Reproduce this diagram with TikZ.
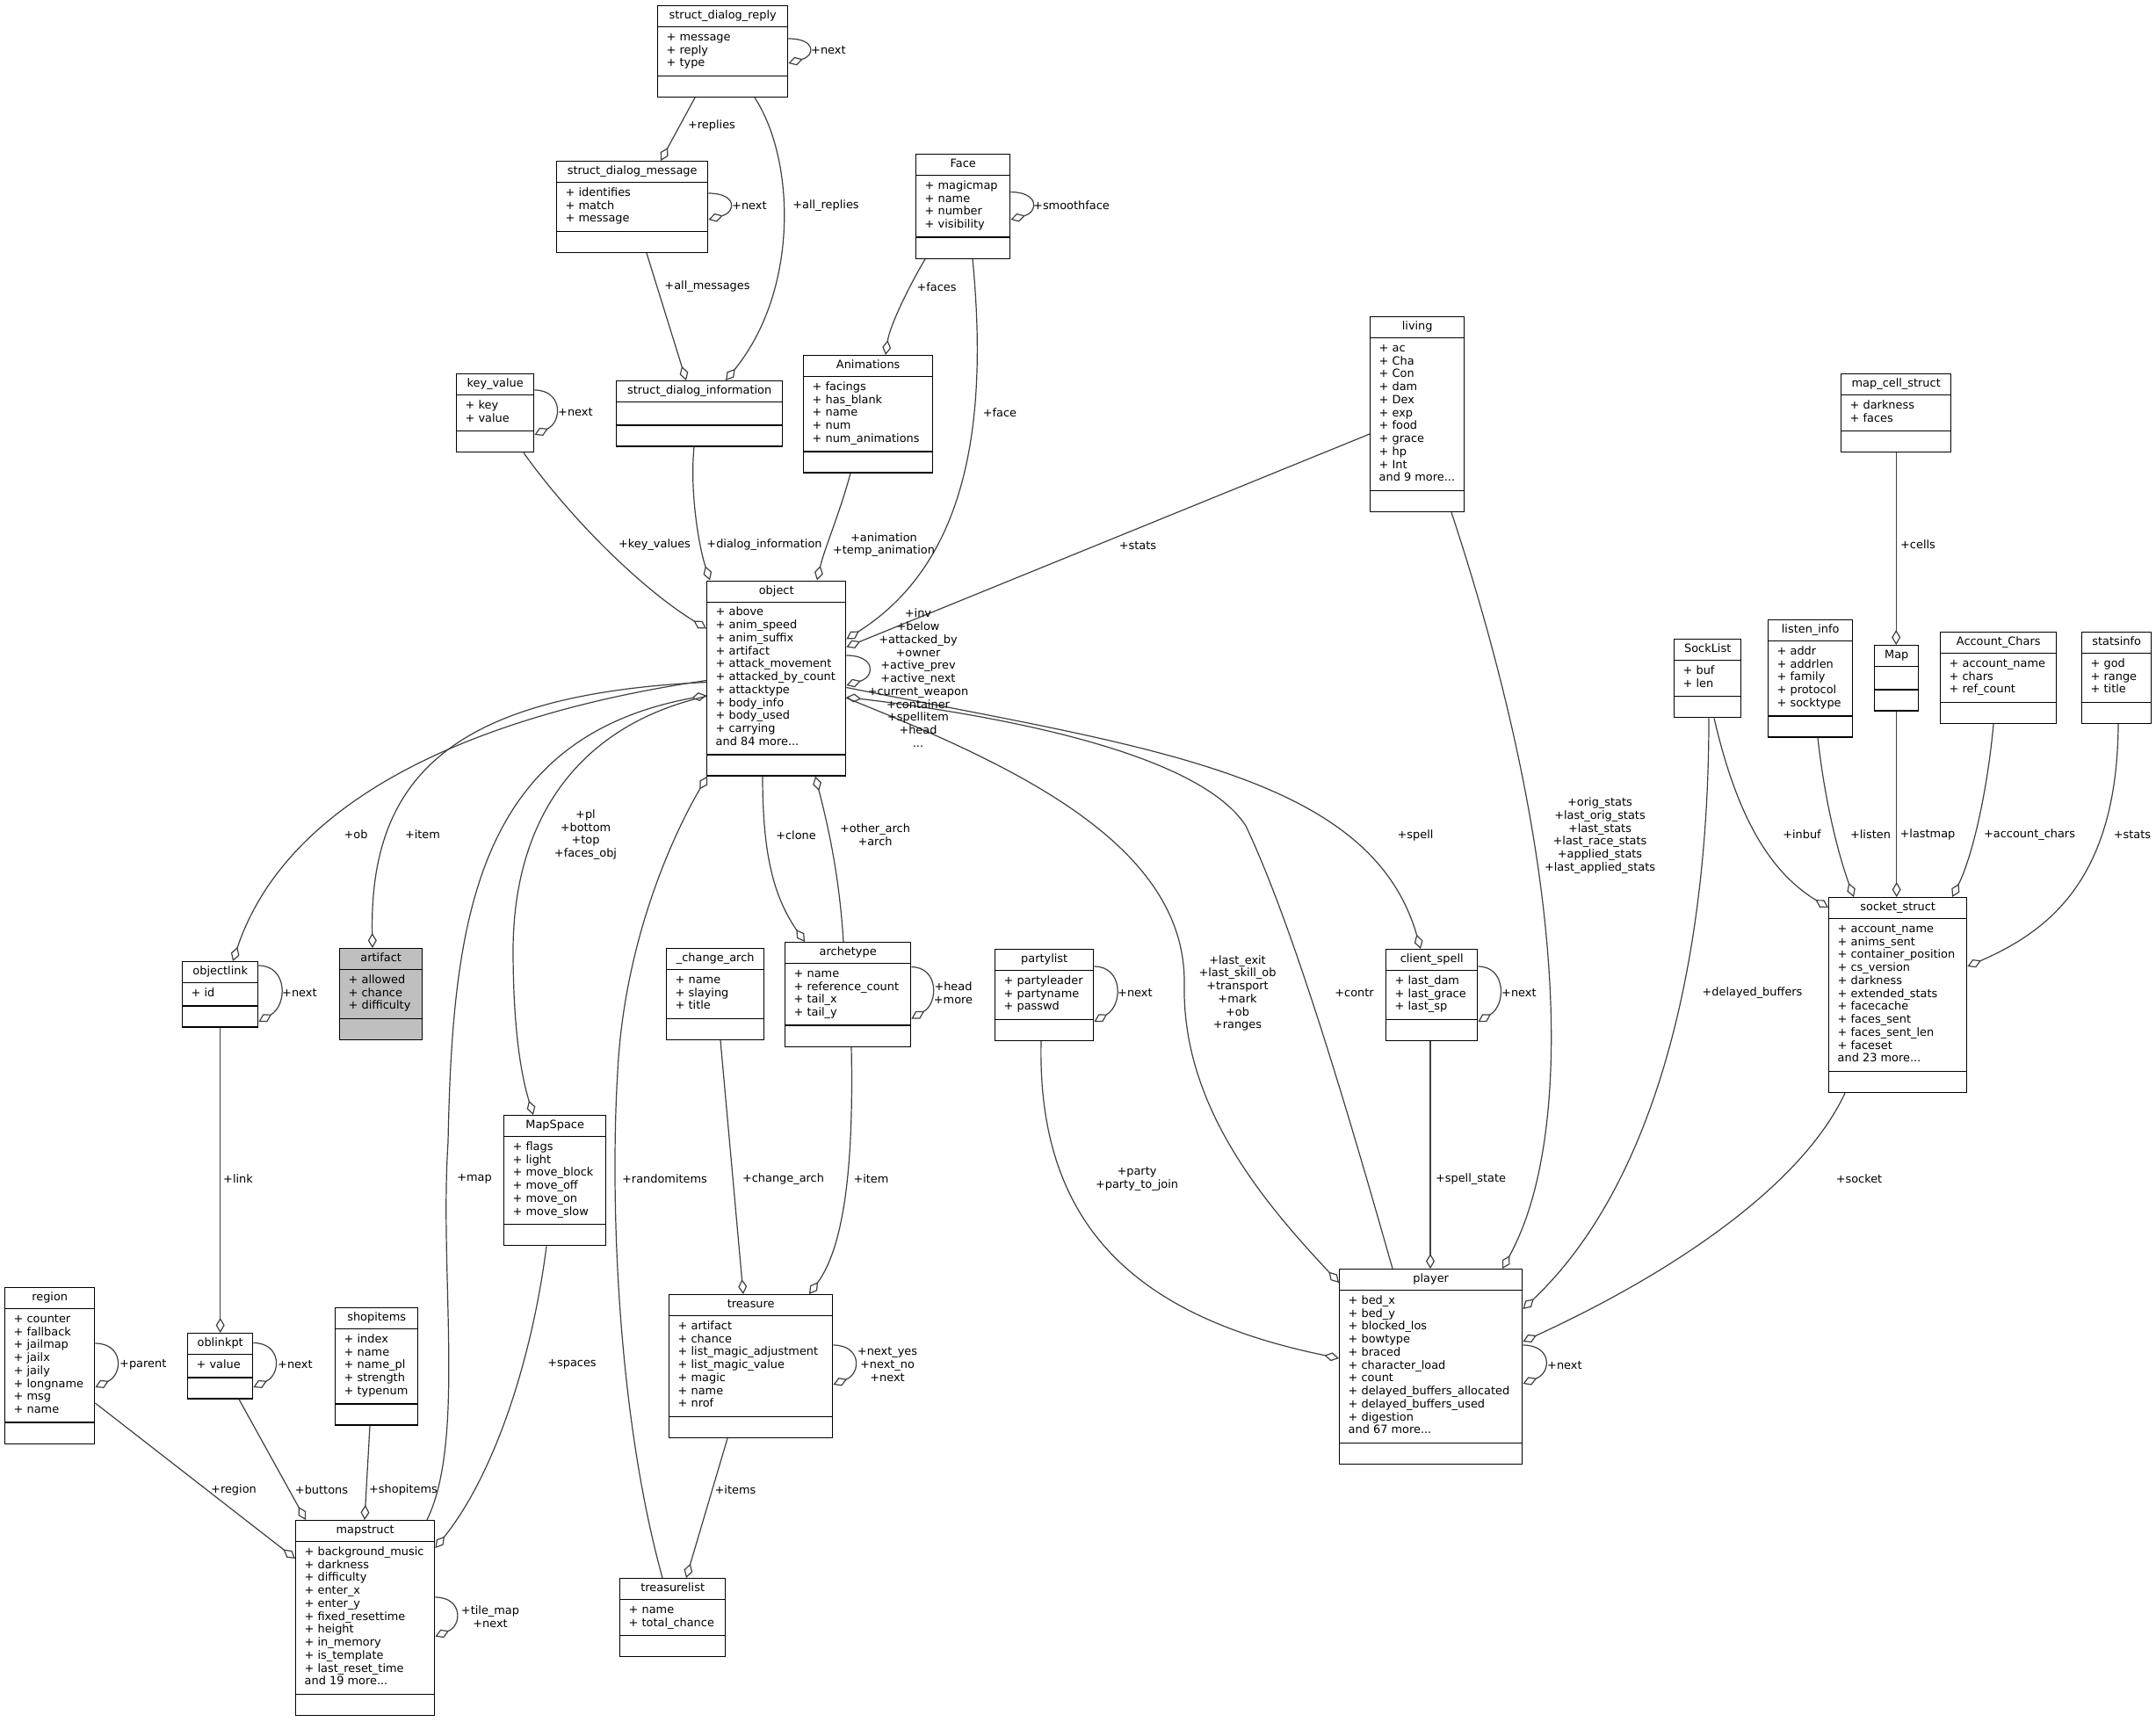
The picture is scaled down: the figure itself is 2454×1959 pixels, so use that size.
\documentclass[tikz,border=0pt]{standalone}
\usepackage{fontspec}
\setmainfont{DejaVu Sans}
\usetikzlibrary{arrows.meta}
\definecolor{edgegrey}{HTML}{404040}
\definecolor{mainfill}{HTML}{BFBFBF}
\newcommand{\dgfont}{\fontsize{12.9}{14.75}\selectfont}
% class box: [fill] id, top left, width, number of attribute lines, title, attributes
\newcommand{\umlclass}[7][white]{%
  \pgfmathsetmacro{\attrh}{ifthenelse(#5==0,24.75,14.75*#5+10)}%
  \pgfmathsetmacro{\boxh}{49.5+\attrh}%
  \node[classbox, fill=#1, minimum width=#4pt, minimum height=\boxh pt, anchor=north west] (#2) at (#3) {};%
  \node[font=\dgfont, inner sep=0pt, text height=9.4pt, text depth=3pt] (#2-title) at ([yshift=-12.4pt]#2.north) {#6};%
  \draw[classline] ([yshift=-24.75pt]#2.north west) -- ([yshift=-24.75pt]#2.north east);%
  \draw[classline] ([yshift=24.75pt]#2.south west) -- ([yshift=24.75pt]#2.south east);%
  \ifnum#5>0 \node[font=\dgfont, align=left, inner sep=0pt, anchor=north west] (#2-attrs) at ([xshift=10.5pt,yshift=-29.75pt]#2.north west) {\strut#7};\fi
}
\tikzset{
  classbox/.style={draw=black, line width=1.4pt, inner sep=0pt},
  classline/.style={draw=black, line width=1.4pt},
  assoc/.style={draw=edgegrey, line width=1.2pt, -{Diamond[open, length=17pt, width=10pt]}},
  lbl/.style={font=\dgfont, inner sep=0pt, align=center},
}
\begin{document}
\begin{tikzpicture}[x=1pt, y=-1pt]
\fill[white] (0,0) rectangle (2454,1959);
\path[use as bounding box] (0,0) rectangle (2454,1959);

\umlclass{sdr}{748,6}{148}{3}{struct\_dialog\_reply}{+ message\\+ reply\\+ type}
\umlclass{sdm}{633,183}{172}{3}{struct\_dialog\_message}{+ identifies\\+ match\\+ message}
\umlclass{face}{1042,175}{107}{4}{Face}{+ magicmap\\+ name\\+ number\\+ visibility}
\umlclass{sdi}{701,433}{189}{0}{struct\_dialog\_information}{}
\umlclass{anim}{914,404}{147}{5}{Animations}{+ facings\\+ has\_blank\\+ name\\+ num\\+ num\_animations}
\umlclass{kv}{519,425}{88}{2}{key\_value}{+ key\\+ value}
\umlclass{living}{1559,360}{107}{11}{living}{+ ac\\+ Cha\\+ Con\\+ dam\\+ Dex\\+ exp\\+ food\\+ grace\\+ hp\\+ Int\\and 9 more...}
\umlclass{mcs}{2095,425}{125}{2}{map\_cell\_struct}{+ darkness\\+ faces}
\umlclass{object}{804,660.5}{158}{11}{object}{+ above\\+ anim\_speed\\+ anim\_suffix\\+ artifact\\+ attack\_movement\\+ attacked\_by\_count\\+ attacktype\\+ body\_info\\+ body\_used\\+ carrying\\and 84 more...}
\umlclass{socklist}{1905,727}{76}{2}{SockList}{+ buf\\+ len}
\umlclass{listen}{2012,705}{96}{5}{listen\_info}{+ addr\\+ addrlen\\+ family\\+ protocol\\+ socktype}
\umlclass{map}{2133,734}{50}{0}{Map}{}
\umlclass{achars}{2208,719}{132}{3}{Account\_Chars}{+ account\_name\\+ chars\\+ ref\_count}
\umlclass{statsinfo}{2369,719}{79}{3}{statsinfo}{+ god\\+ range\\+ title}
\umlclass[mainfill]{artifact}{386,1079}{94}{3}{artifact}{+ allowed\\+ chance\\+ difficulty}
\umlclass{objectlink}{207,1094}{86}{1}{objectlink}{+ id}
\umlclass{changearch}{758,1079}{111}{3}{\_change\_arch}{+ name\\+ slaying\\+ title}
\umlclass{archetype}{893,1072}{143}{4}{archetype}{+ name\\+ reference\_count\\+ tail\_x\\+ tail\_y}
\umlclass{partylist}{1132,1080}{112}{3}{partylist}{+ partyleader\\+ partyname\\+ passwd}
\umlclass{clientspell}{1577,1080}{104}{3}{client\_spell}{+ last\_dam\\+ last\_grace\\+ last\_sp}
\umlclass{socket}{2081,1021}{157}{11}{socket\_struct}{+ account\_name\\+ anims\_sent\\+ container\_position\\+ cs\_version\\+ darkness\\+ extended\_stats\\+ facecache\\+ faces\_sent\\+ faces\_sent\_len\\+ faceset\\and 23 more...}
\umlclass{mapspace}{573,1269}{116}{6}{MapSpace}{+ flags\\+ light\\+ move\_block\\+ move\_off\\+ move\_on\\+ move\_slow}
\umlclass{region}{5,1465}{102}{8}{region}{+ counter\\+ fallback\\+ jailmap\\+ jailx\\+ jaily\\+ longname\\+ msg\\+ name}
\umlclass{shopitems}{381,1488}{94}{5}{shopitems}{+ index\\+ name\\+ name\_pl\\+ strength\\+ typenum}
\umlclass{oblinkpt}{213,1517}{74}{1}{oblinkpt}{+ value}
\umlclass{treasure}{761,1473}{186}{7}{treasure}{+ artifact\\+ chance\\+ list\_magic\_adjustment\\+ list\_magic\_value\\+ magic\\+ name\\+ nrof}
\umlclass{player}{1524,1444}{208}{11}{player}{+ bed\_x\\+ bed\_y\\+ blocked\_los\\+ bowtype\\+ braced\\+ character\_load\\+ count\\+ delayed\_buffers\_allocated\\+ delayed\_buffers\_used\\+ digestion\\and 67 more...}
\umlclass{mapstruct}{336,1730}{158}{11}{mapstruct}{+ background\_music\\+ darkness\\+ difficulty\\+ enter\_x\\+ enter\_y\\+ fixed\_resettime\\+ height\\+ in\_memory\\+ is\_template\\+ last\_reset\_time\\and 19 more...}
\umlclass{treasurelist}{705,1796}{120}{2}{treasurelist}{+ name\\+ total\_chance}

% self references
\draw[assoc] ([yshift=-38pt]sdr.north east) .. controls +(31,0) and +(31,-9) .. ([yshift=-66pt]sdr.north east);
\draw[assoc] ([yshift=-37pt]sdm.north east) .. controls +(32,0) and +(32,-9) .. ([yshift=-67pt]sdm.north east);
\draw[assoc] ([yshift=-43.6pt]face.north east) .. controls +(32,0) and +(32,-9) .. ([yshift=-75pt]face.north east);
\draw[assoc] ([yshift=-19pt]kv.north east) .. controls +(32,0) and +(32,-15) .. ([yshift=-70pt]kv.north east);
\draw[assoc] ([yshift=-85.5pt]object.north east) .. controls +(33,0) and +(33,-10) .. ([yshift=-119.5pt]object.north east);
\draw[assoc] ([yshift=-28.6pt]archetype.north east) .. controls +(31,0) and +(31,-18) .. ([yshift=-87.5pt]archetype.north east);
\draw[assoc] ([yshift=-5pt]objectlink.north east) .. controls +(33,0) and +(33,-19) .. ([yshift=-69pt]objectlink.north east);
\draw[assoc] ([yshift=-64pt]region.north east) .. controls +(32,0) and +(32,-15) .. ([yshift=-114pt]region.north east);
\draw[assoc] ([yshift=-11.5pt]oblinkpt.north east) .. controls +(32,0) and +(32,-15) .. ([yshift=-62pt]oblinkpt.north east);
\draw[assoc] ([yshift=-88pt]mapstruct.north east) .. controls +(31,0) and +(31,-13) .. ([yshift=-132.7pt]mapstruct.north east);
\draw[assoc] ([yshift=-58pt]treasure.north east) .. controls +(32,0) and +(32,-13) .. ([yshift=-103pt]treasure.north east);
\draw[assoc] ([yshift=-20pt]partylist.north east) .. controls +(33,0) and +(33,-19) .. ([yshift=-83pt]partylist.north east);
\draw[assoc] ([yshift=-20pt]clientspell.north east) .. controls +(32,0) and +(32,-19) .. ([yshift=-83pt]clientspell.north east);
\draw[assoc] ([yshift=-87pt]player.north east) .. controls +(33,0) and +(33,-13) .. ([yshift=-131pt]player.north east);

% dialog and faces
\draw[assoc] ([xshift=43pt]sdr.south west) -- ([xshift=119pt]sdm.north west);
\draw[assoc] ([xshift=111pt]sdr.south west) .. controls +(46,70) and +(84,-103) .. ([xshift=125pt]sdi.north west);
\draw[assoc] ([xshift=103pt]sdm.south west) -- ([xshift=80pt]sdi.north west);
\draw[assoc] ([xshift=89pt]sdi.south west) .. controls +(-5,50) and +(-13,-40) .. ([xshift=4pt]object.north west);
\draw[assoc] ([xshift=11pt]face.south west) .. controls +(-15,25) and +(5,-35) .. ([xshift=94pt]anim.north west);
\draw[assoc] ([xshift=65pt]face.south west) .. controls +(18,186) and +(138,-87.5) .. ([yshift=-67pt]object.north east);
\draw[assoc] ([xshift=54pt]anim.south west) .. controls +(-12,45) and +(8,-35) .. ([xshift=126pt]object.north west);
\draw[assoc] ([xshift=77pt]kv.south west) .. controls +(54,75.5) and +(-74,-45.5) .. ([yshift=-55pt]object.north west);
\draw[assoc] ([yshift=-134pt]living.north west) -- ([yshift=-76pt]object.north east);

% object, left and below
\draw[assoc] ([yshift=-116pt]object.north west) .. controls +(-284,13.5) and +(-4,-199) .. ([xshift=38pt]artifact.north west);
\draw[assoc] ([yshift=-114pt]object.north west) .. controls +(-244,35.5) and +(65,-194) .. ([xshift=58pt]objectlink.north west);
\draw[assoc] ([xshift=150pt]mapstruct.north west) .. controls +(44,-90) and +(-10,150) .. (510,1300) .. controls +(5,-250) and +(-264,48.5) .. ([yshift=-131pt]object.north west);
\draw[assoc] ([yshift=-132pt]object.north west) .. controls +(-144,32.5) and +(1,-150) .. (584,1080) .. controls +(0,100) and +(-12,-39) .. ([xshift=34pt]mapspace.north west);
\draw[assoc] ([xshift=49pt]treasurelist.north west) .. controls +(-54,-196) and +(-8,130) .. (703,1220) .. controls +(7,-140) and +(-45,77) .. ([xshift=1pt]object.south west);
\draw[assoc] ([xshift=64pt]object.south west) .. controls +(0,87) and +(-36,-52) .. ([xshift=23pt]archetype.north west);
\draw[assoc] ([xshift=67pt]archetype.north west) .. controls +(-5,-82) and +(12,47) .. ([xshift=124pt]object.south west);

% object, right side and player
\draw[assoc] ([yshift=-134pt]object.north east) .. controls +(188,75.5) and +(2,-160) .. (1348,1120) .. controls +(-3,140) and +(-84,-90) .. ([yshift=-16pt]player.north west);
\draw[assoc] ([xshift=61pt]player.north west) .. controls +(-55,-194) and +(52,110) .. (1418,940) .. controls +(-58,-90) and +(138,16.5) .. ([yshift=-133pt]object.north east);
\draw[assoc] ([yshift=-122pt]object.north east) .. controls +(338,67.5) and +(-57,-200) .. ([xshift=40pt]clientspell.north west);
\draw[assoc] ([xshift=51pt]clientspell.south west) -- ([xshift=104pt]player.north west);
\draw[assoc] ([xshift=53pt]partylist.south west) .. controls +(-5,216) and +(-224,-46) .. ([yshift=-102pt]player.north west);
\draw[assoc] ([xshift=93pt]living.south west) .. controls +(138,418) and +(80,-144) .. ([xshift=186pt]player.north west);

% socket side
\draw[assoc] ([xshift=40pt]socklist.south west) .. controls +(0,283.5) and +(148,-140) .. ([yshift=-46pt]player.north east);
\draw[assoc] ([xshift=46pt]socklist.south west) .. controls +(24,103.5) and +(-71,-43) .. ([yshift=-12pt]socket.north west);
\draw[assoc] ([xshift=57pt]listen.south west) .. controls +(9,81.25) and +(-15,-41) .. ([xshift=29pt]socket.north west);
\draw[assoc] (map.south) -- (map.south |- socket.north);
\draw[assoc] (mcs.south) -- (mcs.south |- map.north);
\draw[assoc] ([xshift=61pt]achars.south west) .. controls +(-7,76.75) and +(23,-46) .. ([xshift=141pt]socket.north west);
\draw[assoc] ([xshift=42pt]statsinfo.south west) .. controls +(-1,176.75) and +(92,-40) .. ([yshift=-79pt]socket.north east);
\draw[assoc] ([xshift=19pt]socket.south west) .. controls +(-50,106.75) and +(168,-77) .. ([yshift=-83pt]player.north east);

% map side
\draw[assoc] (objectlink.south) -- (oblinkpt.north);
\draw[assoc] ([xshift=59pt]oblinkpt.south west) -- ([xshift=12pt]mapstruct.north west);
\draw[assoc] ([xshift=40pt]shopitems.south west) -- ([xshift=79pt]mapstruct.north west);
\draw[assoc] ([yshift=-132pt]region.north east) -- ([yshift=-44pt]mapstruct.north west);
\draw[assoc] ([xshift=49pt]mapspace.south west) .. controls +(-17,132.5) and +(66,-82) .. ([yshift=-32pt]mapstruct.north east);

% treasure
\draw[assoc] ([xshift=62pt]changearch.south west) -- ([xshift=85pt]treasure.north west);
\draw[assoc] ([xshift=76pt]archetype.south west) .. controls +(3,139) and +(39,-53) .. ([xshift=160pt]treasure.north west);
\draw[assoc] ([xshift=67pt]treasure.south west) -- ([xshift=76pt]treasurelist.north west);

% labels
\node[lbl, anchor=west] (l-sdr-next) at (923,57.5) {+next};
\node[lbl, anchor=west] (l-sdm-next) at (833,234) {+next};
\node[lbl, anchor=west] (l-smoothface) at (1176,234) {+smoothface};
\node[lbl, anchor=west] (l-kv-next) at (635,469.5) {+next};
\node[lbl] (l-obj-self) at (1045,771.7) {+inv\\+below\\+attacked\_by\\+owner\\+active\_prev\\+active\_next\\+current\_weapon\\+container\\+spellitem\\+head\\...};
\node[lbl] (l-head) at (1085,1130.5) {+head\\+more};
\node[lbl, anchor=west] (l-ol-next) at (321,1130) {+next};
\node[lbl, anchor=west] (l-parent) at (136,1553) {+parent};
\node[lbl, anchor=west] (l-olp-next) at (316,1553) {+next};
\node[lbl] (l-tile) at (558,1840) {+tile\_map\\+next};
\node[lbl] (l-tr-next) at (1010,1553) {+next\_yes\\+next\_no\\+next};
\node[lbl, anchor=west] (l-pl-next) at (1272,1130) {+next};
\node[lbl, anchor=west] (l-cs-next) at (1709,1130) {+next};
\node[lbl, anchor=west] (l-player-next) at (1761,1553.7) {+next};

\node[lbl] (l-replies) at (810,142.5) {+replies};
\node[lbl] (l-allreplies) at (940,234) {+all\_replies};
\node[lbl] (l-allmessages) at (805,326.4) {+all\_messages};
\node[lbl] (l-faces) at (1066,326.4) {+faces};
\node[lbl] (l-face) at (1138,469.3) {+face};
\node[lbl] (l-keyvalues) at (745,620.6) {+key\_values};
\node[lbl] (l-dialog) at (870,620.6) {+dialog\_information};
\node[lbl] (l-animation) at (1006,620) {+animation\\+temp\_animation};
\node[lbl] (l-stats-living) at (1295,620.6) {+stats};
\node[lbl] (l-cells) at (2183,620) {+cells};
\node[lbl] (l-pl) at (666.5,950) {+pl\\+bottom\\+top\\+faces\_obj};
\node[lbl] (l-ob) at (405,950) {+ob};
\node[lbl] (l-item-art) at (481,950) {+item};
\node[lbl] (l-clone) at (906,950.3) {+clone};
\node[lbl] (l-arch) at (996,950.5) {+other\_arch\\+arch};
\node[lbl] (l-spell) at (1611,950.6) {+spell};
\node[lbl] (l-origstats) at (1821,951) {+orig\_stats\\+last\_orig\_stats\\+last\_stats\\+last\_race\_stats\\+applied\_stats\\+last\_applied\_stats};
\node[lbl] (l-inbuf) at (2051,950) {+inbuf};
\node[lbl] (l-listen) at (2129,950) {+listen};
\node[lbl] (l-lastmap) at (2194,950) {+lastmap};
\node[lbl] (l-accchars) at (2310,950) {+account\_chars};
\node[lbl] (l-stats-si) at (2427,950) {+stats};
\node[lbl] (l-lastexit) at (1408.5,1130.5) {+last\_exit\\+last\_skill\_ob\\+transport\\+mark\\+ob\\+ranges};
\node[lbl] (l-contr) at (1541.5,1130) {+contr};
\node[lbl] (l-delayed) at (1994.5,1130) {+delayed\_buffers};
\node[lbl] (l-link) at (271,1341.5) {+link};
\node[lbl] (l-map) at (540,1342) {+map};
\node[lbl] (l-random) at (756.5,1342) {+randomitems};
\node[lbl] (l-changearch) at (891.5,1342) {+change\_arch};
\node[lbl] (l-item-tr) at (991.5,1342) {+item};
\node[lbl] (l-party) at (1294,1342) {+party\\+party\_to\_join};
\node[lbl] (l-spellstate) at (1674,1342.3) {+spell\_state};
\node[lbl] (l-socket) at (2116,1342) {+socket};
\node[lbl] (l-spaces) at (651,1553) {+spaces};
\node[lbl] (l-region) at (266,1696) {+region};
\node[lbl] (l-buttons) at (366,1696) {+buttons};
\node[lbl] (l-shopitems) at (459,1696) {+shopitems};
\node[lbl] (l-items) at (837,1696) {+items};
\end{tikzpicture}
\end{document}
